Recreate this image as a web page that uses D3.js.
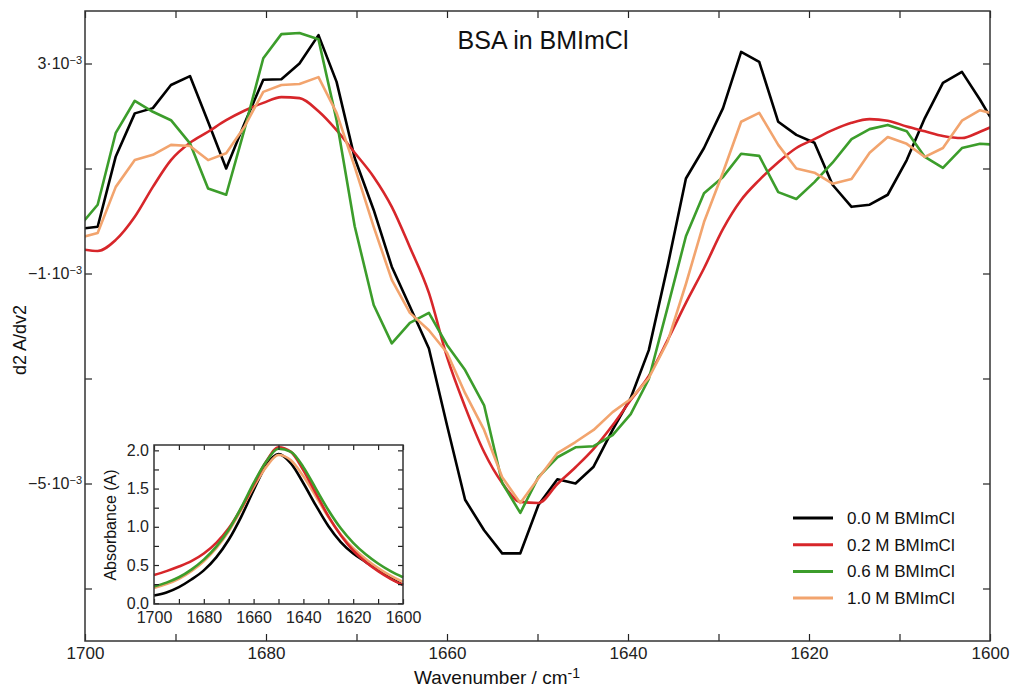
<!DOCTYPE html>
<html>
<head>
<meta charset="utf-8">
<style>
    body { margin: 0; background: #fff; }
    svg { font-family: "Liberation Sans", Arial, sans-serif; }
    .axis .domain { display: none; }
    .axis line { stroke-width: 1.2; }
</style>
</head>
<body>
<svg width="1010" height="689"></svg>

<script src="https://d3js.org/d3.v7.min.js"></script>
<script>
    // second derivative spectra, values in units of 1e-3
    var wavenumber = [1700.6, 1698.6, 1696.6, 1694.5, 1692.5, 1690.5, 1688.4, 1686.4, 1684.4, 1682.4,
        1680.3, 1678.3, 1676.3, 1674.2, 1672.2, 1670.2, 1668.1, 1666.1, 1664.1, 1662.0,
        1660.0, 1658.0, 1655.9, 1653.9, 1651.9, 1649.9, 1647.8, 1645.8, 1643.8, 1641.7,
        1639.7, 1637.7, 1635.6, 1633.6, 1631.6, 1629.5, 1627.5, 1625.5, 1623.4, 1621.4,
        1619.4, 1617.4, 1615.3, 1613.3, 1611.3, 1609.2, 1607.2, 1605.2, 1603.1, 1601.1, 1599.1];

    var d2_00 = [-0.15, -0.11, 1.23, 2.05, 2.15, 2.59, 2.76, 1.89, 1.00, 1.85,
        2.69, 2.70, 3.00, 3.54, 2.65, 1.20, 0.21, -0.87, -1.63, -2.43,
        -3.89, -5.31, -5.89, -6.33, -6.33, -5.41, -4.92, -5.00, -4.68, -3.98,
        -3.37, -2.46, -0.84, 0.81, 1.39, 2.15, 3.22, 3.03, 1.89, 1.64,
        1.49, 0.69, 0.27, 0.31, 0.50, 1.16, 1.96, 2.63, 2.84, 2.31, 1.73];

    var d2_02 = [-0.53, -0.57, -0.36, 0.08, 0.65, 1.16, 1.49, 1.70, 1.92, 2.10,
        2.25, 2.36, 2.34, 2.09, 1.73, 1.30, 0.84, 0.27, -0.50, -1.37,
        -2.59, -3.54, -4.40, -4.99, -5.35, -5.37, -5.01, -4.69, -4.34, -3.89,
        -3.41, -2.95, -2.26, -1.56, -0.90, -0.15, 0.40, 0.78, 1.12, 1.39,
        1.56, 1.73, 1.87, 1.94, 1.91, 1.80, 1.71, 1.62, 1.58, 1.70, 1.85];

    var d2_06 = [-0.10, 0.31, 1.68, 2.29, 2.08, 1.92, 1.48, 0.62, 0.50, 1.73,
        3.10, 3.56, 3.58, 3.46, 1.92, -0.10, -1.60, -2.33, -1.94, -1.75,
        -2.36, -2.84, -3.51, -4.99, -5.56, -4.88, -4.50, -4.31, -4.29, -4.08,
        -3.68, -3.01, -1.63, -0.29, 0.53, 0.84, 1.28, 1.24, 0.55, 0.42,
        0.74, 1.11, 1.56, 1.75, 1.83, 1.71, 1.22, 1.01, 1.39, 1.47, 1.45];

    var d2_10 = [-0.32, -0.23, 0.65, 1.16, 1.26, 1.45, 1.43, 1.16, 1.29, 1.79,
        2.46, 2.59, 2.61, 2.74, 2.06, 1.03, -0.11, -1.12, -1.75, -2.08,
        -2.51, -3.28, -3.98, -4.88, -5.37, -4.90, -4.42, -4.21, -3.98, -3.64,
        -3.39, -2.99, -2.29, -1.20, -0.02, 0.93, 1.89, 2.06, 1.45, 1.00,
        0.92, 0.71, 0.80, 1.30, 1.60, 1.47, 1.22, 1.39, 1.91, 2.11, 2.02];

    // inset: absorbance spectra
    var absWave = [1700, 1695, 1690, 1685, 1680, 1675, 1670, 1665, 1660, 1655, 1650,
        1645, 1640, 1635, 1630, 1625, 1620, 1615, 1610, 1605, 1600];
    var abs_00 = [0.10, 0.14, 0.21, 0.31, 0.43, 0.60, 0.83, 1.13, 1.48, 1.80, 1.95,
        1.83, 1.57, 1.28, 1.01, 0.80, 0.65, 0.54, 0.43, 0.33, 0.24];
    var abs_02 = [0.37, 0.42, 0.48, 0.55, 0.65, 0.79, 0.98, 1.24, 1.55, 1.85, 2.04,
        1.98, 1.74, 1.44, 1.14, 0.89, 0.69, 0.54, 0.42, 0.32, 0.24];
    var abs_06 = [0.22, 0.27, 0.34, 0.44, 0.57, 0.74, 0.96, 1.25, 1.57, 1.85, 2.02,
        1.98, 1.78, 1.50, 1.22, 0.98, 0.79, 0.64, 0.52, 0.42, 0.34];
    var abs_10 = [0.20, 0.25, 0.32, 0.42, 0.55, 0.72, 0.94, 1.22, 1.52, 1.78, 1.94,
        1.87, 1.66, 1.40, 1.13, 0.90, 0.72, 0.58, 0.46, 0.36, 0.28];

    var names = ["0.0 M BMImCl", "0.2 M BMImCl", "0.6 M BMImCl", "1.0 M BMImCl"];
    var colors = ["#000000", "#d7262a", "#3c9d2b", "#f2a46e"];

    var xTicks = [1700, 1690, 1680, 1670, 1660, 1650, 1640, 1630, 1620, 1610, 1600];
    var yTicks = [-7, -5, -3, -1, 1, 3];
    var yLabelled = [-5, -1, 3];
    var insetYTicks = [0, 0.25, 0.5, 0.75, 1, 1.25, 1.5, 1.75, 2];

    var svg = d3.select("svg");

    var x = d3.scaleLinear().domain([1700, 1600]).range([85, 990]);
    var y = d3.scaleLinear().domain([-8, 4]).range([641, 11]);

    svg.append("clipPath").attr("id", "clip")
        .append("rect").attr("x", 85).attr("y", 11).attr("width", 905).attr("height", 630);

    var mainSeries = [d2_00, d2_02, d2_06, d2_10];

    var plot = svg.append("g").attr("clip-path", "url(#clip)");
    mainSeries.forEach(function (s, i) {
        var line = d3.line()
            .x(function (d, j) { return x(wavenumber[j]); })
            .y(function (d) { return y(d); })
            .curve(i === 1 ? d3.curveMonotoneX : d3.curveLinear);
        plot.append("path")
            .datum(s)
            .attr("fill", "none")
            .attr("stroke", colors[i])
            .attr("stroke-width", 2.6)
            .attr("stroke-linejoin", "round")
            .attr("d", line);
    });

    // axes, ticks inward on all four sides
    function style(g, size) {
        g.attr("class", "axis").attr("color", "#222")
            .attr("font-family", "Liberation Sans, Arial, sans-serif")
            .attr("font-size", size);
    }

    svg.append("g").attr("transform", "translate(0,641)")
        .call(d3.axisBottom(x).tickValues(xTicks).tickSize(-7).tickPadding(6)
            .tickFormat(function (d) { return d % 20 === 0 ? d : ""; }))
        .call(style, 17);
    svg.append("g").attr("transform", "translate(0,11)")
        .call(d3.axisTop(x).tickValues(xTicks).tickSize(-7).tickFormat(""))
        .call(style, 17);
    var gy = svg.append("g").attr("transform", "translate(85,0)")
        .call(d3.axisLeft(y).tickValues(yTicks).tickSize(-7).tickPadding(3))
        .call(style, 16);
    svg.append("g").attr("transform", "translate(990,0)")
        .call(d3.axisRight(y).tickValues(yTicks).tickSize(-7).tickFormat(""))
        .call(style, 16);

    gy.selectAll(".tick text").each(function (d) {
        var t = d3.select(this).text(null);
        if (yLabelled.indexOf(d) < 0) return;
        t.append("tspan").text((d < 0 ? "\u2212" + (-d) : d) + "\u00b710");
        t.append("tspan").attr("dy", "-0.5em").attr("font-size", 11).text("\u22123");
    });

    svg.append("rect")
        .attr("x", 85).attr("y", 11).attr("width", 905).attr("height", 630)
        .attr("fill", "none").attr("stroke", "#333").attr("stroke-width", 1.5);

    // titles
    svg.append("text")
        .attr("x", 543).attr("y", 49)
        .attr("text-anchor", "middle")
        .attr("font-size", 25)
        .attr("fill", "#111")
        .text("BSA in BMImCl");

    var xl = svg.append("text")
        .attr("x", 497).attr("y", 684)
        .attr("text-anchor", "middle")
        .attr("font-size", 19)
        .attr("fill", "#111");
    xl.append("tspan").text("Wavenumber / cm");
    xl.append("tspan").attr("dy", "-0.45em").attr("font-size", 14).text("-1");

    svg.append("text")
        .attr("transform", "translate(26,340) rotate(-90)")
        .attr("text-anchor", "middle")
        .attr("font-size", 18)
        .attr("fill", "#111")
        .text("d2 A/dv2");

    // legend
    var legend = svg.append("g")
        .selectAll("g")
        .data(names)
        .enter().append("g")
        .attr("transform", function (d, i) { return "translate(0," + (518 + i * 26.7) + ")"; });

    legend.append("line")
        .attr("x1", 793).attr("x2", 833)
        .attr("stroke", function (d, i) { return colors[i]; })
        .attr("stroke-width", 3);

    legend.append("text")
        .attr("x", 847).attr("dy", "0.35em")
        .attr("font-size", 17)
        .attr("fill", "#111")
        .text(function (d) { return d; });

    // inset
    var ix = d3.scaleLinear().domain([1700, 1600]).range([154, 403]);
    var iy = d3.scaleLinear().domain([-0.01, 2.07]).range([604, 445]);

    svg.append("rect")
        .attr("x", 154).attr("y", 445).attr("width", 249).attr("height", 159)
        .attr("fill", "#fff");

    var insetSeries = [abs_00, abs_02, abs_06, abs_10];
    var inset = svg.append("g");
    [0, 3, 1, 2].forEach(function (i) {
        var line = d3.line()
            .x(function (d, j) { return ix(absWave[j]); })
            .y(function (d) { return iy(d); })
            .curve(d3.curveMonotoneX);
        inset.append("path")
            .datum(insetSeries[i])
            .attr("fill", "none")
            .attr("stroke", colors[i])
            .attr("stroke-width", 2.6)
            .attr("d", line);
    });

    svg.append("g").attr("transform", "translate(0,604)")
        .call(d3.axisBottom(ix).tickValues(xTicks).tickSize(-5).tickPadding(8)
            .tickFormat(function (d) { return d % 20 === 0 ? d : ""; }))
        .call(style, 16);
    svg.append("g").attr("transform", "translate(0,445)")
        .call(d3.axisTop(ix).tickValues(xTicks).tickSize(-5).tickFormat(""))
        .call(style, 16);
    svg.append("g").attr("transform", "translate(154,0)")
        .call(d3.axisLeft(iy).tickValues(insetYTicks).tickSize(-5).tickPadding(5)
            .tickFormat(function (d) { return d % 0.5 === 0 ? d3.format(".1f")(d) : ""; }))
        .call(style, 16);
    svg.append("g").attr("transform", "translate(403,0)")
        .call(d3.axisRight(iy).tickValues(insetYTicks).tickSize(-5).tickFormat(""))
        .call(style, 16);

    svg.append("rect")
        .attr("x", 154).attr("y", 445).attr("width", 249).attr("height", 159)
        .attr("fill", "none").attr("stroke", "#333").attr("stroke-width", 1.5);

    svg.append("text")
        .attr("transform", "translate(116,525) rotate(-90)")
        .attr("text-anchor", "middle")
        .attr("font-size", 16)
        .attr("fill", "#111")
        .text("Absorbance (A)");
</script>
</body>
</html>
